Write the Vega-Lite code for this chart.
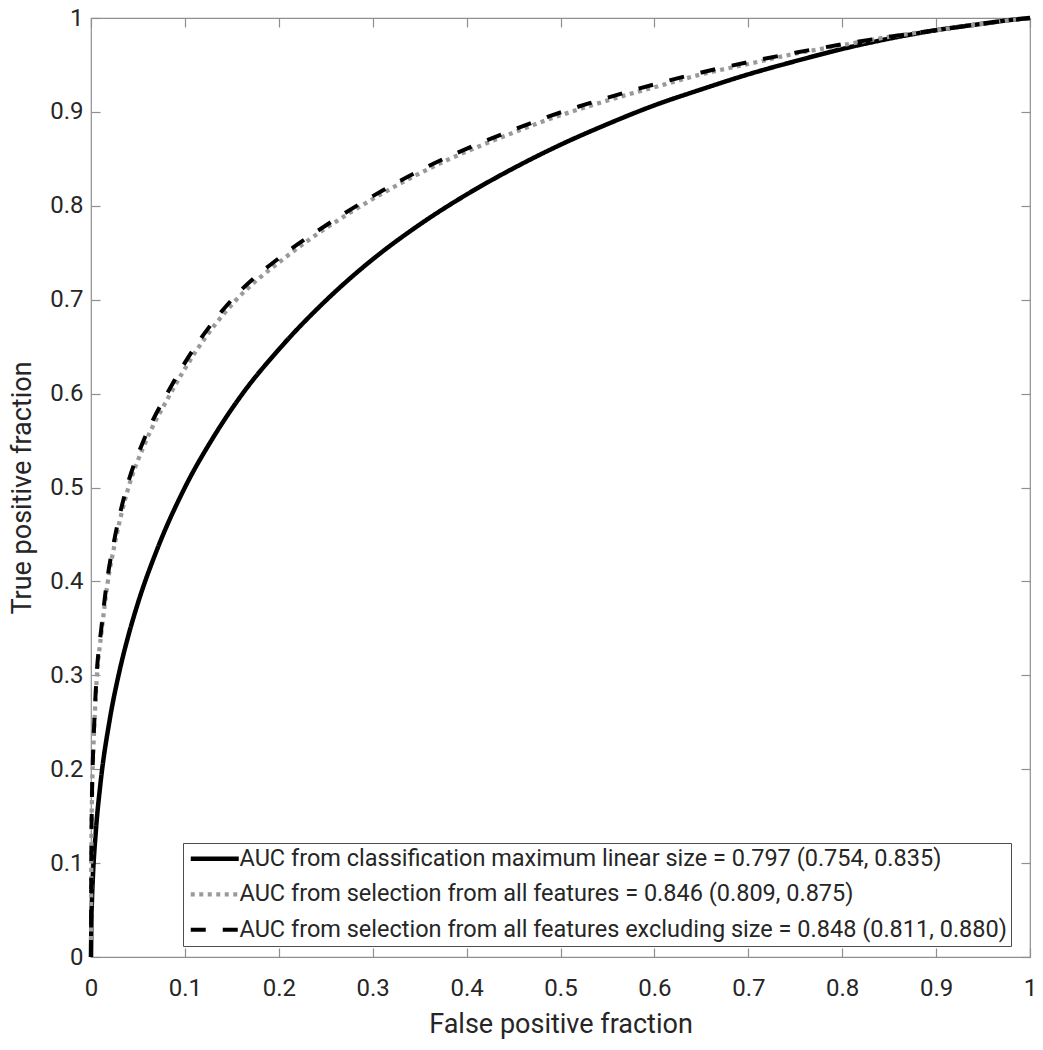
{
  "$schema": "https://vega.github.io/schema/vega-lite/v6.json",
  "width": 939,
  "height": 939,
  "autosize": {"type": "none"},
  "padding": {"left": 91, "top": 18, "right": 13, "bottom": 93},
  "background": "white",
  "config": {
    "font": "Roboto",
    "view": {"stroke": "#8f8f8f", "strokeWidth": 1.2},
    "axis": {
      "domain": false,
      "grid": false,
      "tickColor": "#8f8f8f",
      "tickSize": -9,
      "tickWidth": 1.2,
      "labelFlush": false,
      "labelOverlap": false,
      "labelFont": "Roboto",
      "labelFontSize": 24,
      "labelColor": "#262626",
      "titleFont": "Roboto",
      "titleFontSize": 27,
      "titleFontWeight": "normal",
      "titleColor": "#262626"
    }
  },
  "datasets": {
    "roc": [
      {"series": "AUC from classification maximum linear size = 0.797 (0.754, 0.835)", "fpf": 0, "tpf": 0},
      {"series": "AUC from classification maximum linear size = 0.797 (0.754, 0.835)", "fpf": 0.0005, "tpf": 0.042},
      {"series": "AUC from classification maximum linear size = 0.797 (0.754, 0.835)", "fpf": 0.001, "tpf": 0.06},
      {"series": "AUC from classification maximum linear size = 0.797 (0.754, 0.835)", "fpf": 0.002, "tpf": 0.085},
      {"series": "AUC from classification maximum linear size = 0.797 (0.754, 0.835)", "fpf": 0.005, "tpf": 0.132},
      {"series": "AUC from classification maximum linear size = 0.797 (0.754, 0.835)", "fpf": 0.01, "tpf": 0.184},
      {"series": "AUC from classification maximum linear size = 0.797 (0.754, 0.835)", "fpf": 0.02, "tpf": 0.253},
      {"series": "AUC from classification maximum linear size = 0.797 (0.754, 0.835)", "fpf": 0.03, "tpf": 0.303},
      {"series": "AUC from classification maximum linear size = 0.797 (0.754, 0.835)", "fpf": 0.04, "tpf": 0.343},
      {"series": "AUC from classification maximum linear size = 0.797 (0.754, 0.835)", "fpf": 0.05, "tpf": 0.377},
      {"series": "AUC from classification maximum linear size = 0.797 (0.754, 0.835)", "fpf": 0.07, "tpf": 0.433},
      {"series": "AUC from classification maximum linear size = 0.797 (0.754, 0.835)", "fpf": 0.1, "tpf": 0.5},
      {"series": "AUC from classification maximum linear size = 0.797 (0.754, 0.835)", "fpf": 0.13, "tpf": 0.553},
      {"series": "AUC from classification maximum linear size = 0.797 (0.754, 0.835)", "fpf": 0.16, "tpf": 0.598},
      {"series": "AUC from classification maximum linear size = 0.797 (0.754, 0.835)", "fpf": 0.2, "tpf": 0.647},
      {"series": "AUC from classification maximum linear size = 0.797 (0.754, 0.835)", "fpf": 0.25, "tpf": 0.699},
      {"series": "AUC from classification maximum linear size = 0.797 (0.754, 0.835)", "fpf": 0.3, "tpf": 0.743},
      {"series": "AUC from classification maximum linear size = 0.797 (0.754, 0.835)", "fpf": 0.35, "tpf": 0.78},
      {"series": "AUC from classification maximum linear size = 0.797 (0.754, 0.835)", "fpf": 0.4, "tpf": 0.812},
      {"series": "AUC from classification maximum linear size = 0.797 (0.754, 0.835)", "fpf": 0.45, "tpf": 0.84},
      {"series": "AUC from classification maximum linear size = 0.797 (0.754, 0.835)", "fpf": 0.5, "tpf": 0.865},
      {"series": "AUC from classification maximum linear size = 0.797 (0.754, 0.835)", "fpf": 0.55, "tpf": 0.887},
      {"series": "AUC from classification maximum linear size = 0.797 (0.754, 0.835)", "fpf": 0.6, "tpf": 0.907},
      {"series": "AUC from classification maximum linear size = 0.797 (0.754, 0.835)", "fpf": 0.65, "tpf": 0.924},
      {"series": "AUC from classification maximum linear size = 0.797 (0.754, 0.835)", "fpf": 0.7, "tpf": 0.94},
      {"series": "AUC from classification maximum linear size = 0.797 (0.754, 0.835)", "fpf": 0.75, "tpf": 0.954},
      {"series": "AUC from classification maximum linear size = 0.797 (0.754, 0.835)", "fpf": 0.8, "tpf": 0.967},
      {"series": "AUC from classification maximum linear size = 0.797 (0.754, 0.835)", "fpf": 0.85, "tpf": 0.978},
      {"series": "AUC from classification maximum linear size = 0.797 (0.754, 0.835)", "fpf": 0.9, "tpf": 0.987},
      {"series": "AUC from classification maximum linear size = 0.797 (0.754, 0.835)", "fpf": 0.95, "tpf": 0.994},
      {"series": "AUC from classification maximum linear size = 0.797 (0.754, 0.835)", "fpf": 0.98, "tpf": 0.998},
      {"series": "AUC from classification maximum linear size = 0.797 (0.754, 0.835)", "fpf": 1, "tpf": 1},

      {"series": "AUC from selection from all features = 0.846 (0.809, 0.875)", "fpf": 0, "tpf": 0},
      {"series": "AUC from selection from all features = 0.846 (0.809, 0.875)", "fpf": 0.0003, "tpf": 0.1},
      {"series": "AUC from selection from all features = 0.846 (0.809, 0.875)", "fpf": 0.001, "tpf": 0.168},
      {"series": "AUC from selection from all features = 0.846 (0.809, 0.875)", "fpf": 0.002, "tpf": 0.207},
      {"series": "AUC from selection from all features = 0.846 (0.809, 0.875)", "fpf": 0.0036, "tpf": 0.248},
      {"series": "AUC from selection from all features = 0.846 (0.809, 0.875)", "fpf": 0.0062, "tpf": 0.297},
      {"series": "AUC from selection from all features = 0.846 (0.809, 0.875)", "fpf": 0.0113, "tpf": 0.347},
      {"series": "AUC from selection from all features = 0.846 (0.809, 0.875)", "fpf": 0.0175, "tpf": 0.397},
      {"series": "AUC from selection from all features = 0.846 (0.809, 0.875)", "fpf": 0.0268, "tpf": 0.447},
      {"series": "AUC from selection from all features = 0.846 (0.809, 0.875)", "fpf": 0.039, "tpf": 0.497},
      {"series": "AUC from selection from all features = 0.846 (0.809, 0.875)", "fpf": 0.0575, "tpf": 0.547},
      {"series": "AUC from selection from all features = 0.846 (0.809, 0.875)", "fpf": 0.083, "tpf": 0.597},
      {"series": "AUC from selection from all features = 0.846 (0.809, 0.875)", "fpf": 0.113, "tpf": 0.647},
      {"series": "AUC from selection from all features = 0.846 (0.809, 0.875)", "fpf": 0.152, "tpf": 0.697},
      {"series": "AUC from selection from all features = 0.846 (0.809, 0.875)", "fpf": 0.207, "tpf": 0.745},
      {"series": "AUC from selection from all features = 0.846 (0.809, 0.875)", "fpf": 0.25, "tpf": 0.776},
      {"series": "AUC from selection from all features = 0.846 (0.809, 0.875)", "fpf": 0.278, "tpf": 0.794},
      {"series": "AUC from selection from all features = 0.846 (0.809, 0.875)", "fpf": 0.31, "tpf": 0.813},
      {"series": "AUC from selection from all features = 0.846 (0.809, 0.875)", "fpf": 0.345, "tpf": 0.832},
      {"series": "AUC from selection from all features = 0.846 (0.809, 0.875)", "fpf": 0.38, "tpf": 0.849},
      {"series": "AUC from selection from all features = 0.846 (0.809, 0.875)", "fpf": 0.415, "tpf": 0.864},
      {"series": "AUC from selection from all features = 0.846 (0.809, 0.875)", "fpf": 0.45, "tpf": 0.878},
      {"series": "AUC from selection from all features = 0.846 (0.809, 0.875)", "fpf": 0.49, "tpf": 0.893},
      {"series": "AUC from selection from all features = 0.846 (0.809, 0.875)", "fpf": 0.53, "tpf": 0.906},
      {"series": "AUC from selection from all features = 0.846 (0.809, 0.875)", "fpf": 0.57, "tpf": 0.918},
      {"series": "AUC from selection from all features = 0.846 (0.809, 0.875)", "fpf": 0.61, "tpf": 0.929},
      {"series": "AUC from selection from all features = 0.846 (0.809, 0.875)", "fpf": 0.65, "tpf": 0.94},
      {"series": "AUC from selection from all features = 0.846 (0.809, 0.875)", "fpf": 0.7, "tpf": 0.951},
      {"series": "AUC from selection from all features = 0.846 (0.809, 0.875)", "fpf": 0.75, "tpf": 0.962},
      {"series": "AUC from selection from all features = 0.846 (0.809, 0.875)", "fpf": 0.8, "tpf": 0.971},
      {"series": "AUC from selection from all features = 0.846 (0.809, 0.875)", "fpf": 0.85, "tpf": 0.98},
      {"series": "AUC from selection from all features = 0.846 (0.809, 0.875)", "fpf": 0.9, "tpf": 0.987},
      {"series": "AUC from selection from all features = 0.846 (0.809, 0.875)", "fpf": 0.95, "tpf": 0.994},
      {"series": "AUC from selection from all features = 0.846 (0.809, 0.875)", "fpf": 1, "tpf": 1},

      {"series": "AUC from selection from all features excluding size = 0.848 (0.811, 0.880)", "fpf": 0, "tpf": 0},
      {"series": "AUC from selection from all features excluding size = 0.848 (0.811, 0.880)", "fpf": 0.0003, "tpf": 0.1},
      {"series": "AUC from selection from all features excluding size = 0.848 (0.811, 0.880)", "fpf": 0.001, "tpf": 0.17},
      {"series": "AUC from selection from all features excluding size = 0.848 (0.811, 0.880)", "fpf": 0.002, "tpf": 0.21},
      {"series": "AUC from selection from all features excluding size = 0.848 (0.811, 0.880)", "fpf": 0.0035, "tpf": 0.25},
      {"series": "AUC from selection from all features excluding size = 0.848 (0.811, 0.880)", "fpf": 0.006, "tpf": 0.3},
      {"series": "AUC from selection from all features excluding size = 0.848 (0.811, 0.880)", "fpf": 0.011, "tpf": 0.35},
      {"series": "AUC from selection from all features excluding size = 0.848 (0.811, 0.880)", "fpf": 0.017, "tpf": 0.4},
      {"series": "AUC from selection from all features excluding size = 0.848 (0.811, 0.880)", "fpf": 0.026, "tpf": 0.45},
      {"series": "AUC from selection from all features excluding size = 0.848 (0.811, 0.880)", "fpf": 0.038, "tpf": 0.5},
      {"series": "AUC from selection from all features excluding size = 0.848 (0.811, 0.880)", "fpf": 0.056, "tpf": 0.55},
      {"series": "AUC from selection from all features excluding size = 0.848 (0.811, 0.880)", "fpf": 0.081, "tpf": 0.6},
      {"series": "AUC from selection from all features excluding size = 0.848 (0.811, 0.880)", "fpf": 0.111, "tpf": 0.65},
      {"series": "AUC from selection from all features excluding size = 0.848 (0.811, 0.880)", "fpf": 0.15, "tpf": 0.7},
      {"series": "AUC from selection from all features excluding size = 0.848 (0.811, 0.880)", "fpf": 0.205, "tpf": 0.748},
      {"series": "AUC from selection from all features excluding size = 0.848 (0.811, 0.880)", "fpf": 0.25, "tpf": 0.779},
      {"series": "AUC from selection from all features excluding size = 0.848 (0.811, 0.880)", "fpf": 0.278, "tpf": 0.797},
      {"series": "AUC from selection from all features excluding size = 0.848 (0.811, 0.880)", "fpf": 0.31, "tpf": 0.816},
      {"series": "AUC from selection from all features excluding size = 0.848 (0.811, 0.880)", "fpf": 0.345, "tpf": 0.835},
      {"series": "AUC from selection from all features excluding size = 0.848 (0.811, 0.880)", "fpf": 0.38, "tpf": 0.852},
      {"series": "AUC from selection from all features excluding size = 0.848 (0.811, 0.880)", "fpf": 0.415, "tpf": 0.867},
      {"series": "AUC from selection from all features excluding size = 0.848 (0.811, 0.880)", "fpf": 0.45, "tpf": 0.881},
      {"series": "AUC from selection from all features excluding size = 0.848 (0.811, 0.880)", "fpf": 0.49, "tpf": 0.896},
      {"series": "AUC from selection from all features excluding size = 0.848 (0.811, 0.880)", "fpf": 0.53, "tpf": 0.909},
      {"series": "AUC from selection from all features excluding size = 0.848 (0.811, 0.880)", "fpf": 0.57, "tpf": 0.921},
      {"series": "AUC from selection from all features excluding size = 0.848 (0.811, 0.880)", "fpf": 0.61, "tpf": 0.932},
      {"series": "AUC from selection from all features excluding size = 0.848 (0.811, 0.880)", "fpf": 0.65, "tpf": 0.942},
      {"series": "AUC from selection from all features excluding size = 0.848 (0.811, 0.880)", "fpf": 0.7, "tpf": 0.953},
      {"series": "AUC from selection from all features excluding size = 0.848 (0.811, 0.880)", "fpf": 0.75, "tpf": 0.963},
      {"series": "AUC from selection from all features excluding size = 0.848 (0.811, 0.880)", "fpf": 0.8, "tpf": 0.972},
      {"series": "AUC from selection from all features excluding size = 0.848 (0.811, 0.880)", "fpf": 0.85, "tpf": 0.98},
      {"series": "AUC from selection from all features excluding size = 0.848 (0.811, 0.880)", "fpf": 0.9, "tpf": 0.987},
      {"series": "AUC from selection from all features excluding size = 0.848 (0.811, 0.880)", "fpf": 0.95, "tpf": 0.994},
      {"series": "AUC from selection from all features excluding size = 0.848 (0.811, 0.880)", "fpf": 1, "tpf": 1}
    ]
  },
  "layer": [
    {
      "data": {"name": "roc"},
      "mark": {"type": "line", "interpolate": "monotone", "strokeCap": "butt", "strokeJoin": "round"},
      "encoding": {
        "x": {
          "field": "fpf", "type": "quantitative",
          "scale": {"domain": [0, 1], "nice": false, "zero": false},
          "axis": {"orient": "bottom", "title": "False positive fraction", "values": [0, 0.1, 0.2, 0.3, 0.4, 0.5, 0.6, 0.7, 0.8, 0.9, 1], "format": "~g", "labelPadding": 28, "titlePadding": 11}
        },
        "y": {
          "field": "tpf", "type": "quantitative",
          "scale": {"domain": [0, 1], "nice": false, "zero": false},
          "axis": {"orient": "left", "title": "True positive fraction", "values": [0, 0.1, 0.2, 0.3, 0.4, 0.5, 0.6, 0.7, 0.8, 0.9, 1], "format": "~g", "labelPadding": 17, "titlePadding": 13}
        },
        "color": {
          "field": "series", "type": "nominal",
          "scale": {
            "domain": ["AUC from classification maximum linear size = 0.797 (0.754, 0.835)", "AUC from selection from all features = 0.846 (0.809, 0.875)", "AUC from selection from all features excluding size = 0.848 (0.811, 0.880)"],
            "range": ["#000000", "#9a9a9a", "#000000"]
          },
          "legend": {
            "orient": "none", "legendX": 92, "legendY": 825, "title": null,
            "symbolType": "M-4,0H4", "symbolSize": 144, "symbolOffset": 16,
            "labelFontSize": 23.5, "labelFont": "Roboto", "labelColor": "#262626",
            "strokeColor": "#4d4d4d", "fillColor": "white", "padding": 4, "rowPadding": 10.5, "labelOffset": 13, "labelLimit": 0
          }
        },
        "strokeDash": {
          "field": "series", "type": "nominal",
          "scale": {
            "domain": ["AUC from classification maximum linear size = 0.797 (0.754, 0.835)", "AUC from selection from all features = 0.846 (0.809, 0.875)", "AUC from selection from all features excluding size = 0.848 (0.811, 0.880)"],
            "range": [[1, 0], [4, 4.5], [15, 17]]
          }
        },
        "strokeWidth": {
          "field": "series", "type": "nominal",
          "scale": {
            "domain": ["AUC from classification maximum linear size = 0.797 (0.754, 0.835)", "AUC from selection from all features = 0.846 (0.809, 0.875)", "AUC from selection from all features excluding size = 0.848 (0.811, 0.880)"],
            "range": [4.5, 4, 5]
          }
        }
      }
    },
    {
      "data": {"name": "roc"},
      "mark": {"type": "line", "opacity": 0},
      "encoding": {
        "x": {
          "field": "fpf", "type": "quantitative",
          "scale": {"domain": [0, 1], "nice": false, "zero": false},
          "axis": {"orient": "top", "title": null, "labels": false, "values": [0, 0.1, 0.2, 0.3, 0.4, 0.5, 0.6, 0.7, 0.8, 0.9, 1]}
        },
        "y": {
          "field": "tpf", "type": "quantitative",
          "scale": {"domain": [0, 1], "nice": false, "zero": false},
          "axis": {"orient": "right", "title": null, "labels": false, "values": [0, 0.1, 0.2, 0.3, 0.4, 0.5, 0.6, 0.7, 0.8, 0.9, 1]}
        }
      }
    }
  ],
  "resolve": {"axis": {"x": "independent", "y": "independent"}}
}
